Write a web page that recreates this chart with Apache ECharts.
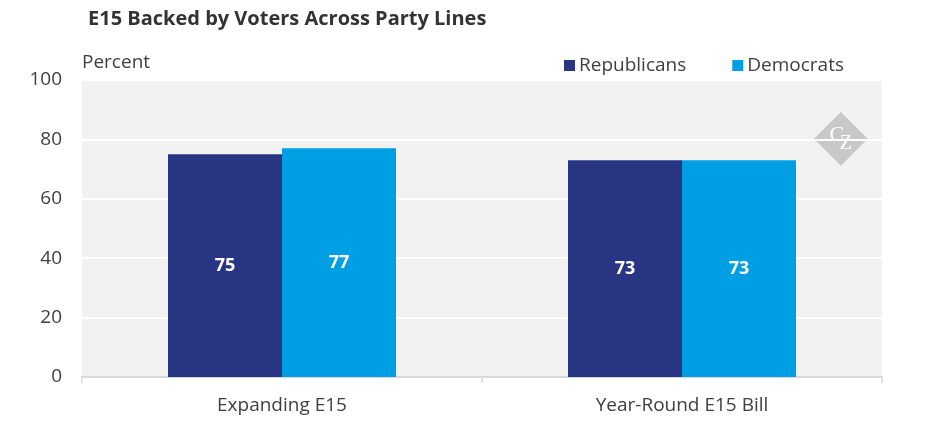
<!DOCTYPE html>
<html>
<head>
<meta charset="utf-8">
<script src="https://cdn.jsdelivr.net/npm/echarts@6/dist/echarts.min.js"></script>
<style>
  html, body { margin: 0; padding: 0; background: #fff; }
  #chart { width: 945px; height: 443px; }
</style>
</head>
<body>
<div id="chart"></div>
<script>
// 数据
var categories = ['Expanding E15', 'Year-Round E15 Bill'];
var republicans = [75, 73];
var democrats = [77, 73];
var seriesNames = ['Republicans', 'Democrats'];

var chart = echarts.init(document.getElementById('chart'));

var labelStyle = {
    show: true,
    position: 'inside',
    color: '#fff',
    fontWeight: 'bold',
    fontSize: 18,
    fontFamily: 'Open Sans'
};

chart.setOption({
    animation: false,
    textStyle: { fontFamily: 'Open Sans' },
    title: {
        text: 'E15 Backed by Voters Across Party Lines',
        left: 83,
        top: 4,
        textStyle: { fontSize: 20, fontWeight: 'bold', color: '#333', fontFamily: 'Open Sans' }
    },
    legend: {
        data: seriesNames,
        right: 96,
        top: 51,
        itemWidth: 11,
        itemHeight: 11,
        itemGap: 46,
        icon: 'rect',
        textStyle: { fontSize: 19, color: '#404040', padding: [0, 0, 0, -1] }
    },
    grid: {
        left: 82,
        right: 63,
        top: 80,
        bottom: 66,
        show: true,
        backgroundColor: '#f2f2f2',
        borderWidth: 0
    },
    xAxis: {
        type: 'category',
        data: categories,
        axisLine: { lineStyle: { color: '#d9d9d9', width: 2 } },
        axisTick: { show: true, length: 6, lineStyle: { color: '#d9d9d9', width: 1.5 } },
        axisLabel: { fontSize: 19, color: '#404040', margin: 19 }
    },
    yAxis: {
        type: 'value',
        min: 0,
        max: 100,
        interval: 20,
        name: 'Percent',
        nameLocation: 'end',
        nameGap: 8,
        nameTextStyle: { fontSize: 19, color: '#404040', align: 'left', padding: [0, 0, 0, 0] },
        axisLine: { show: false },
        axisTick: { show: false },
        axisLabel: { fontSize: 19, color: '#404040', margin: 20 },
        splitLine: { lineStyle: { color: '#fff', width: 2 } }
    },
    graphic: [{
        type: 'group',
        left: 814,
        top: 112,
        children: [{
            type: 'rect',
            shape: { x: -19, y: -19, width: 38, height: 38 },
            x: 27, y: 27,
            rotation: Math.PI / 4,
            style: { fill: '#c8c8c8' }
        }, {
            type: 'text',
            x: 23, y: 23,
            style: {
                text: 'C',
                fill: '#fff',
                font: '22px serif',
                align: 'center',
                verticalAlign: 'middle'
            }
        }, {
            type: 'text',
            x: 32, y: 32,
            style: {
                text: 'Z',
                fill: '#fff',
                font: '20px serif',
                align: 'center',
                verticalAlign: 'middle'
            }
        }]
    }],
    series: [{
        name: seriesNames[0],
        type: 'bar',
        data: republicans,
        barGap: '0%',
        barCategoryGap: '43%',
        itemStyle: { color: '#283583' },
        label: labelStyle
    }, {
        name: seriesNames[1],
        type: 'bar',
        data: democrats,
        barGap: '0%',
        barCategoryGap: '43%',
        itemStyle: { color: '#009fe3' },
        label: labelStyle
    }]
});
</script>
</body>
</html>
